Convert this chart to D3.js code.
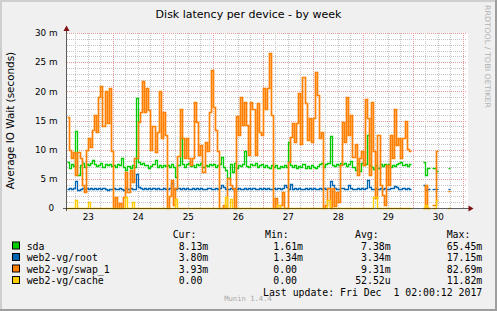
<!DOCTYPE html>
<html>
<head>
<meta charset="utf-8">
<script src="https://cdn.jsdelivr.net/npm/d3@7"></script>
<style>
body { margin: 0; padding: 0; background: #fff; }
svg { display: block; }
text { white-space: pre; }
</style>
</head>
<body>
<svg id="chart" width="497" height="311"></svg>
<script>
//**********  Munin: disk latency per device, by week  **************

// hourly samples starting Fri Nov 23 2017 02:00, null = no data (seconds in "m" units)
var sdaLatency = [
    7.9, 6.8, 7.6, 7.2, 13.2, 5.7, 7.4, 7.7, 7.0, 7.5, 7.3, 7.8,
    8.2, 7.6, 7.2, 7.4, 7.7, 7.1, 7.5, 7.3, 7.6, 7.2, 7.4, 7.1,
    7.5, 7.3, 8.6, 7.0, 6.5, 7.2, 6.8, 7.4, 7.0, 18.9, 7.9, 7.6,
    7.7, 7.3, 7.4, 6.9, 7.2, 7.6, 8.2, 7.1, 7.3, 7.0, 7.4, 7.2,
    7.3, 7.0, 7.5, 7.1, 5.4, 7.3, 12.0, 7.6, 7.1, 7.5, 7.8, 7.2,
    7.4, 7.0, 7.6, 7.3, 7.7, 7.1, 7.4, 7.2, 7.6, 7.3, 7.5, 7.0,
    7.3, 7.6, 8.8, 7.0, 6.6, 5.1, 7.5, 6.2, 7.7, 6.8, 7.4, 7.2,
    7.6, 9.7, 7.2, 7.0, 7.5, 7.3, 7.7, 7.1, 7.4, 7.6, 7.0, 7.3,
    7.1, 6.9, 7.3, 7.0, 7.4, 6.8, 7.2, 7.0, 7.4, 7.1, 11.4, 7.3,
    7.0, 7.4, 6.9, 7.2, 7.0, 7.5, 6.8, 7.2, 6.9, 7.3, 7.0, 6.8,
    7.2, 7.6, 7.8, 7.1, 7.5, 7.7, 12.3, 7.4, 7.2, 7.6, 7.3, 7.7,
    7.5, 7.8, 7.2, 7.6, 8.0, 7.1, 6.5, 7.7, 6.3, 7.8, 7.4, 7.6,
    12.5, 7.3, 7.0, 6.7, 7.4, 6.8, 7.5, 7.2, 7.6, 7.3, 7.5, 7.1,
    7.4, 7.2, 7.6, 7.8, 7.9, 7.3, 7.6, 7.2, 7.5, null, null, null,
    null, null, null, 7.9, 5.6, 6.8, null, 6.8, 6.8, 6.4, null, null,
    null, null, null, 6.9, null, null, null, null, null, null, null, null
];

var rootLatency = [
    3.2, 3.4, 3.3, 3.5, 4.6, 3.1, 3.3, 3.4, 3.2, 3.5, 3.3, 3.4,
    3.2, 3.4, 3.3, 3.5, 3.2, 3.4, 3.3, 3.1, 3.3, 3.2, 3.4, 3.3,
    3.2, 3.4, 3.3, 3.1, 3.4, 3.2, 3.5, 3.3, 3.2, 5.8, 3.6, 3.4,
    3.3, 3.5, 3.2, 3.4, 3.3, 3.5, 3.2, 3.4, 3.3, 3.2, 3.4, 3.3,
    3.2, 3.5, 4.3, 3.3, 3.2, 3.4, 3.3, 3.5, 3.2, 3.4, 3.3, 3.2,
    3.4, 3.3, 3.5, 3.2, 3.4, 3.3, 3.2, 3.4, 3.5, 3.3, 3.2, 3.4,
    3.3, 3.5, 3.9, 3.6, 3.3, 3.2, 3.4, 3.3, 3.5, 3.2, 3.4, 3.3,
    3.2, 3.4, 3.3, 3.5, 3.2, 3.4, 3.3, 3.2, 3.4, 3.3, 3.5, 3.2,
    3.4, 3.3, 3.2, 3.4, 3.3, 3.5, 3.2, 3.4, 3.9, 3.6, 3.3, 4.1,
    3.3, 3.5, 3.2, 3.4, 3.3, 3.2, 3.4, 3.3, 3.5, 3.2, 3.4, 3.3,
    3.2, 3.4, 3.3, 3.5, 3.3, 3.4, 4.6, 3.9, 3.4, 3.2, 3.3, 3.5,
    3.4, 3.2, 3.3, 4.0, 3.5, 3.3, 3.2, 3.4, 3.3, 3.5, 3.2, 3.4,
    4.8, 3.6, 3.3, 3.2, 3.4, 3.3, 3.5, 3.2, 3.4, 3.3, 3.2, 3.4,
    3.5, 3.8, 3.6, 3.3, 3.2, 3.4, 3.3, 3.5, 3.3, null, null, null,
    null, null, null, 4.0, 3.1, 3.3, null, 3.3, 3.3, 3.3, null, null,
    null, null, null, 3.3, null, null, null, null, null, null, null, null
];

var swapLatency = [
    15.6, 10, 8.5, 9.6, 5.7, 9.6, 8.5, 4, 2.8, 10, 12, 10.5,
    13.4, 15.9, 13, 19, 21, 14, 20, 14.5, 20.5, 9.7, 0, 1.9,
    0, 0.8, 0, 1.9, 6.2, 2.8, 6.5, 4.5, 8.5, 8.5, 14.8, 16.5,
    21.8, 16.5, 20.5, 16.8, 10, 14, 9.6, 13, 20, 12, 16.5, 12.5,
    0, 2, 4.8, 0.5, 3.4, 9, 17, 12, 8.5, 12, 8.5, 7.4,
    8.5, 18.2, 14.8, 9.1, 10.8, 6.2, 11.4, 9.7, 16.5, 23.7, 17.4, 13.4,
    9.7, 0, 0, 0.5, 0, 5.1, 3.9, 3.4, 0, 15.7, 12.5, 19,
    14.2, 18.2, 14.2, 9.1, 18.2, 17, 9.1, 18, 13, 12.5, 20.5, 17,
    20.5, 26.6, 16, 0, 1.7, 0, 0.6, 2.8, 0, 0, 7.9, 12.2,
    14.5, 11.4, 14.5, 19.7, 11, 22.5, 18, 11.7, 15.4, 11.4, 15.4, 23.4,
    19.4, 12, 13, 0, 0.5, 3.4, 0, 3.4, 0.3, 2.8, 1.1, 7.4,
    14.8, 11.4, 19, 12.5, 16, 8.8, 11, 5.7, 8.5, 9.7, 7.4, 18.7,
    15.4, 5.7, 18.1, 9.7, 1.7, 12.5, 3.9, 2.2, 0.5, 7.4, 3.9, 12.5,
    8.5, 17, 10.8, 12, 8.5, 12, 15, 10.2, 9.7, null, null, null,
    null, null, null, 0, 3.9, 0, null, 0.5, 0.5, 9.8, null, null,
    null, null, null, 3, null, null, null, null, null, null, null, null
];

// cache device is zero except for a few short spikes
var cacheSpikeHours = [4, 10, 28, 31, 52, 76, 78, 101, 125, 147, 148, 172, 177];
var cacheSpikeValues = [1.4, 1.0, 1.9, 1.0, 1.5, 1.9, 1.6, 0.5, 1.4, 1.9, 1.9, 0.6, 1.3];

var yTickValues = [0, 5, 10, 15, 20, 25, 30];

// legend table
var legendNames = ["sda", "web2-vg/root", "web2-vg/swap_1", "web2-vg/cache"];
var legendColors = ["#00CC00", "#0066B3", "#FF8000", "#FFCC00"];
var curValues = ["8.13m", "3.80m", "3.93m", "0.00"];
var minValues = ["1.61m", "1.34m", "0.00", "0.00"];
var avgValues = ["7.38m", "3.34m", "9.31m", "52.52u"];
var maxValues = ["65.45m", "17.15m", "82.69m", "11.82m"];


//Setting up chart layout
var svgWidth = 497;
var svgHeight = 311;
var plot = { left: 67, right: 467, top: 33, bottom: 208 };

var sansFont = "'DejaVu Sans', Verdana, sans-serif";
var monoFont = "'DejaVu Sans Mono', monospace";

var t0 = new Date(2017, 10, 23, 2, 0, 0);
var t1 = new Date(2017, 11, 1, 2, 0, 0);

var x = d3.scaleTime().domain([t0, t1]).range([plot.left, plot.right]);
var y = d3.scaleLinear().domain([0, 30]).range([plot.bottom, plot.top]);

var svg = d3.select("#chart");

// background + 3D frame like rrdtool
svg.append("rect").attr("width", svgWidth).attr("height", svgHeight).attr("fill", "#F0F0F0");
svg.append("rect").attr("x", 0).attr("y", 0).attr("width", svgWidth).attr("height", 2).attr("fill", "#CFCFCF");
svg.append("rect").attr("x", 0).attr("y", 0).attr("width", 2).attr("height", svgHeight).attr("fill", "#CFCFCF");
svg.append("rect").attr("x", svgWidth - 2).attr("y", 0).attr("width", 2).attr("height", svgHeight).attr("fill", "#9E9E9E");
svg.append("rect").attr("x", 0).attr("y", svgHeight - 2).attr("width", svgWidth).attr("height", 2).attr("fill", "#9E9E9E");

// canvas
svg.append("rect")
    .attr("x", plot.left - 1).attr("y", plot.top)
    .attr("width", plot.right - plot.left + 2).attr("height", plot.bottom - plot.top)
    .attr("fill", "#FFFFFF");


/////////////////////////////////////////////////////////////////////
//                        GRID                                     //
/////////////////////////////////////////////////////////////////////
var grid = svg.append("g").attr("shape-rendering", "crispEdges");

grid.selectAll(".hgrid")
    .data(d3.range(1, 31))
    .enter()
    .append("line")
    .attr("x1", plot.left)
    .attr("x2", plot.right)
    .attr("y1", d => Math.round(y(d)) + 0.5)
    .attr("y2", d => Math.round(y(d)) + 0.5)
    .attr("stroke", d => d % 5 == 0 ? "#E89A9A" : "#C4C4C4")
    .attr("stroke-dasharray", "1,1");

var minorTimes = d3.timeHour.every(6).range(t0, t1).filter(d => d.getHours() != 0);
var dayTimes = d3.timeDay.range(d3.timeHour.offset(t0, 1), t1);

grid.selectAll(".vminor")
    .data(minorTimes)
    .enter()
    .append("line")
    .attr("x1", d => Math.round(x(d)) + 0.5)
    .attr("x2", d => Math.round(x(d)) + 0.5)
    .attr("y1", plot.top)
    .attr("y2", plot.bottom)
    .attr("stroke", "#C4C4C4")
    .attr("stroke-dasharray", "1,1");

grid.selectAll(".vmajor")
    .data(dayTimes)
    .enter()
    .append("line")
    .attr("x1", d => Math.round(x(d)) + 0.5)
    .attr("x2", d => Math.round(x(d)) + 0.5)
    .attr("y1", plot.top)
    .attr("y2", plot.bottom)
    .attr("stroke", "#E89A9A")
    .attr("stroke-dasharray", "1,1");


/////////////////////////////////////////////////////////////////////
//                        SERIES                                   //
/////////////////////////////////////////////////////////////////////
// split a series into runs of defined samples; each run gets a closing point
// so the last sample keeps its hour-wide step
function toRuns(values) {
    var runs = [];
    var cur = null;
    values.forEach(function (v, i) {
        if (v == null) { cur = null; return; }
        if (!cur) { cur = []; runs.push(cur); }
        cur.push({ h: i, v: v });
    });
    runs.forEach(function (r) {
        var last = r[r.length - 1];
        r.push({ h: last.h + 1, v: last.v });
    });
    return runs;
}

var cacheLatency = sdaLatency.map(function (v, i) {
    if (v == null) return null;
    var k = cacheSpikeHours.indexOf(i);
    return k >= 0 ? cacheSpikeValues[k] : 0;
});

var stepLine = d3.line()
    .x(d => Math.round(x(d3.timeHour.offset(t0, d.h))) + 0.5)
    .y(d => Math.round(y(d.v)) + 0.5)
    .curve(d3.curveStepAfter);

var seriesList = [sdaLatency, rootLatency, swapLatency, cacheLatency];
var seriesWidth = [1.3, 1.3, 1.7, 1.4];

var seriesG = svg.append("g");
seriesList.forEach(function (vals, i) {
    seriesG.selectAll(".s" + i)
        .data(toRuns(vals))
        .enter()
        .append("path")
        .attr("class", "s" + i)
        .attr("d", stepLine)
        .attr("fill", "none")
        .attr("stroke", legendColors[i])
        .attr("stroke-linejoin", "miter")
        .attr("stroke-width", seriesWidth[i]);
});


/////////////////////////////////////////////////////////////////////
//                        AXES                                     //
/////////////////////////////////////////////////////////////////////
var axisG = svg.append("g").attr("shape-rendering", "crispEdges");
axisG.append("line")
    .attr("x1", plot.left - 4).attr("x2", plot.right + 2)
    .attr("y1", plot.bottom + 0.5).attr("y2", plot.bottom + 0.5)
    .attr("stroke", "#000").attr("stroke-opacity", 0.6);
axisG.append("line")
    .attr("x1", plot.left - 0.5).attr("x2", plot.left - 0.5)
    .attr("y1", plot.bottom + 3).attr("y2", plot.top - 3)
    .attr("stroke", "#000").attr("stroke-opacity", 0.65);

// arrows
svg.append("path")
    .attr("d", d3.line()([[plot.left - 0.5, plot.top - 7.5], [plot.left - 3.5, plot.top - 2], [plot.left + 2.5, plot.top - 2]]) + "Z")
    .attr("fill", "#7F1010");
svg.append("path")
    .attr("d", d3.line()([[plot.right + 6.5, plot.bottom + 0.5], [plot.right + 1.5, plot.bottom - 2.5], [plot.right + 1.5, plot.bottom + 3.5]]) + "Z")
    .attr("fill", "#7F1010");

var yAxis = d3.axisLeft(y)
    .tickValues(yTickValues)
    .tickSize(0)
    .tickPadding(9)
    .tickFormat(d => d == 0 ? "0" : d + " m");

svg.append("g")
    .attr("transform", "translate(" + (plot.left - 0.5) + ",0)")
    .call(yAxis)
    .call(g => g.select(".domain").remove())
    .call(g => g.selectAll(".tick text")
        .attr("fill", "#000")
        .attr("dx", d => d == 0 ? -3.5 : 0)
        .style("font-family", sansFont)
        .style("font-size", "8.8px"));

var noonTimes = d3.timeHour.range(t0, t1).filter(d => d.getHours() == 12);
var xAxis = d3.axisBottom(x)
    .tickValues(noonTimes)
    .tickSize(0)
    .tickPadding(6)
    .tickFormat(d3.timeFormat("%d"));

svg.append("g")
    .attr("transform", "translate(0," + plot.bottom + ")")
    .call(xAxis)
    .call(g => g.select(".domain").remove())
    .call(g => g.selectAll(".tick text")
        .attr("fill", "#000")
        .style("font-family", sansFont)
        .style("font-size", "8.8px"));


/////////////////////////////////////////////////////////////////////
//                        TEXTS                                    //
/////////////////////////////////////////////////////////////////////
svg.append("text")
    .attr("x", svgWidth / 2)
    .attr("y", 18)
    .attr("text-anchor", "middle")
    .style("font-family", sansFont)
    .style("font-size", "11px")
    .text("Disk latency per device - by week");

svg.append("text")
    .attr("transform", "translate(14," + ((plot.top + plot.bottom) / 2) + ") rotate(-90)")
    .attr("text-anchor", "middle")
    .style("font-family", sansFont)
    .style("font-size", "10.4px")
    .text("Average IO Wait (seconds)");

svg.append("text")
    .attr("transform", "translate(485,5) rotate(90)")
    .attr("textLength", 103)
    .attr("lengthAdjust", "spacingAndGlyphs")
    .attr("fill", "#B0B0B0")
    .style("font-family", sansFont)
    .style("font-size", "7.6px")
    .text("RRDTOOL / TOBI OETIKER");

// legend
var charW = 5.93;
var rowY = [249.5, 261, 272.5, 284];
var headerY = 238;
var columns = [
    { title: "Cur:", head: 172.7, right: 208.3, vals: curValues },
    { title: "Min:", head: 265, right: 303, vals: minValues },
    { title: "Avg:", head: 355, right: 390.7, vals: avgValues },
    { title: "Max:", head: 446.7, right: 482.3, vals: maxValues }
];

var legendG = svg.append("g")
    .style("font-family", monoFont)
    .style("font-size", "9.85px");

columns.forEach(function (c) {
    legendG.append("text").attr("x", c.head).attr("y", headerY).text(c.title);
    legendG.selectAll(null)
        .data(c.vals)
        .enter()
        .append("text")
        .attr("x", d => /[a-z]$/.test(d) ? c.right : c.right - charW)
        .attr("y", (d, i) => rowY[i])
        .attr("text-anchor", "end")
        .text(d => d);
});

legendG.selectAll(".swatch")
    .data(legendNames)
    .enter()
    .append("rect")
    .attr("x", 12.5)
    .attr("y", (d, i) => rowY[i] - 7.5)
    .attr("width", 7)
    .attr("height", 7)
    .attr("fill", (d, i) => legendColors[i])
    .attr("stroke", "#000")
    .attr("stroke-width", 1);

legendG.selectAll(".lname")
    .data(legendNames)
    .enter()
    .append("text")
    .attr("x", 26.7)
    .attr("y", (d, i) => rowY[i])
    .text(d => d);

legendG.append("text")
    .attr("x", 482.3)
    .attr("y", 295.5)
    .attr("text-anchor", "end")
    .text("Last update: Fri Dec  1 02:00:12 2017");

svg.append("text")
    .attr("x", 248)
    .attr("y", 301)
    .attr("text-anchor", "middle")
    .attr("fill", "#A8A8A8")
    .style("font-family", monoFont)
    .style("font-size", "7.2px")
    .text("Munin 1.4.4");
</script>
</body>
</html>
